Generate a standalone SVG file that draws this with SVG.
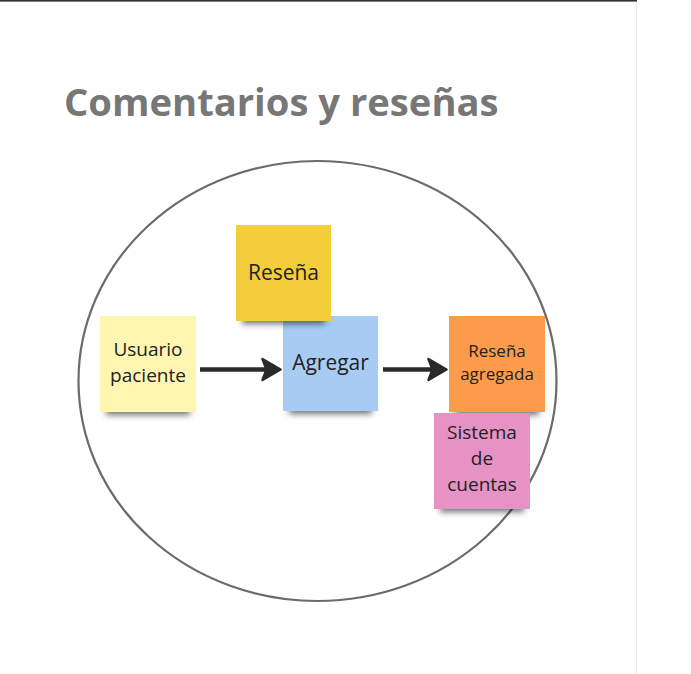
<svg xmlns="http://www.w3.org/2000/svg" width="691" height="674" viewBox="0 0 691 674">
  <style>
    .title { font-family: "Open Sans", "Noto Sans", "Liberation Sans", sans-serif; font-weight: 700; font-size: 38.2px; fill: #777777; }
    .lbl { font-family: "Open Sans", "Noto Sans", "Liberation Sans", sans-serif; font-weight: 400; fill: #222222; text-anchor: middle; }
    .shadow { fill: #000000; opacity: 0.55; filter: url(#blur); }
    .conn { stroke: #2a2a2a; stroke-width: 4.5; fill: none; marker-end: url(#head); }
  </style>
  <defs>
    <filter id="blur" x="-20%" y="-150%" width="140%" height="400%">
      <feGaussianBlur stdDeviation="3"/>
    </filter>
    <marker id="head" viewBox="0 0 22 26" refX="12" refY="13" markerWidth="22" markerHeight="26" markerUnits="userSpaceOnUse" orient="auto">
      <path d="M2.5,2.5 L20.5,13 L2.5,23.5 L6.5,13 Z" fill="#2a2a2a" stroke="#2a2a2a" stroke-width="2.5" stroke-linejoin="round"/>
    </marker>
  </defs>

  <rect x="0" y="0" width="691" height="674" fill="#ffffff"/>
  <rect x="0" y="0" width="637" height="1.6" fill="#333333"/>
  <line x1="636.5" y1="2" x2="636.5" y2="674" stroke="#ececec" stroke-width="1"/>

  <text class="title" x="64" y="115.5">Comentarios y reseñas</text>

  <ellipse id="boundary" cx="317.5" cy="381" rx="239" ry="220" fill="none" stroke="#6b6b6b" stroke-width="2.2"/>

  <g id="usuario-paciente">
    <rect class="shadow" x="106" y="405" width="84" height="10"/>
    <rect x="100" y="316" width="96" height="96" fill="#fef5b1"/>
    <text class="lbl" font-size="19" x="148" y="356">Usuario</text>
    <text class="lbl" font-size="19" x="148" y="382">paciente</text>
  </g>

  <g id="agregar">
    <rect class="shadow" x="289" y="404" width="83" height="10"/>
    <rect x="283" y="316" width="95" height="95" fill="#a7cbf2"/>
    <text class="lbl" font-size="21" x="330.5" y="370">Agregar</text>
  </g>

  <g id="resena">
    <rect class="shadow" x="242" y="314" width="83" height="10"/>
    <rect x="236" y="225" width="95" height="96" fill="#f4cd3b"/>
    <text class="lbl" font-size="21" x="283.5" y="280">Reseña</text>
  </g>

  <g id="resena-agregada">
    <rect class="shadow" x="455" y="405" width="84" height="10"/>
    <rect x="449" y="316" width="96" height="96" fill="#fd9b4d"/>
    <text class="lbl" font-size="17" x="497" y="357">Reseña</text>
    <text class="lbl" font-size="17" x="497" y="380">agregada</text>
  </g>

  <g id="sistema-de-cuentas">
    <rect class="shadow" x="440" y="502" width="84" height="10"/>
    <rect x="434" y="413" width="96" height="96" fill="#e692c4"/>
    <text class="lbl" font-size="19" x="482" y="439">Sistema</text>
    <text class="lbl" font-size="19" x="482" y="465">de</text>
    <text class="lbl" font-size="19" x="482" y="491">cuentas</text>
  </g>

  <g id="connectors">
    <path class="conn" d="M200,369.5 H272"/>
    <path class="conn" d="M383,369.5 H438"/>
  </g>
</svg>
